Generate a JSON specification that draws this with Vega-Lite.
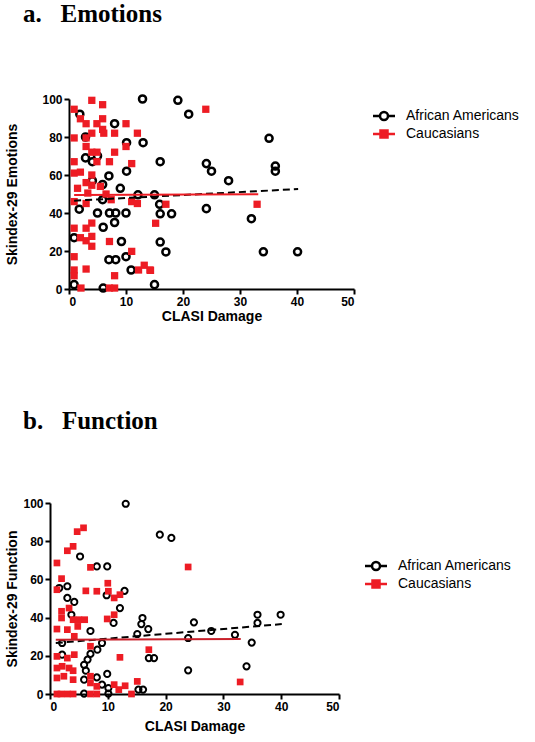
{
"$schema": "https://vega.github.io/schema/vega-lite/v6.json",
"background": "white",
"padding": {"left": 5, "top": 2, "right": 5, "bottom": 5},
"spacing": 85,
"config": {
 "view": {"stroke": null},
 "axis": {"domainColor": "black", "domainWidth": 2, "tickColor": "black", "tickWidth": 2, "tickSize": 5, "grid": false,
  "labelFont": "Liberation Sans", "labelFontSize": 12, "labelFontWeight": "bold", "labelColor": "black", "labelPadding": 2,
  "titleFont": "Liberation Sans", "titleFontSize": 14, "titleFontWeight": "bold", "titleColor": "black"},
 "title": {"anchor": "start", "frame": "bounds", "font": "Liberation Serif", "fontSize": 25, "fontWeight": "bold", "color": "black", "offset": 63, "dx": 17},
 "legend": {"labelFont": "Liberation Sans", "labelFontSize": 14, "labelColor": "black", "symbolSize": 100, "symbolStrokeWidth": 2.5, "symbolOpacity": 1, "rowPadding": 0, "labelOffset": 15}
},
"datasets": {
 "emo": [
  {"x":12.9,"y":100,"g":"African Americans"},{"x":19.1,"y":99.3,"g":"African Americans"},{"x":21,"y":92,"g":"African Americans"},{"x":1.9,"y":92,"g":"African Americans"},{"x":8,"y":87,"g":"African Americans"},{"x":35.1,"y":79.3,"g":"African Americans"},{"x":36.2,"y":64.7,"g":"African Americans"},{"x":36.2,"y":62,"g":"African Americans"},{"x":24.1,"y":66,"g":"African Americans"},{"x":25,"y":62,"g":"African Americans"},{"x":28,"y":57,"g":"African Americans"},{"x":16,"y":67,"g":"African Americans"},{"x":10.1,"y":77,"g":"African Americans"},{"x":13,"y":77,"g":"African Americans"},{"x":2.9,"y":80,"g":"African Americans"},{"x":2.9,"y":69,"g":"African Americans"},{"x":4.1,"y":67,"g":"African Americans"},{"x":5,"y":70,"g":"African Americans"},{"x":7,"y":59.5,"g":"African Americans"},{"x":10.1,"y":62,"g":"African Americans"},{"x":5.9,"y":55,"g":"African Americans"},{"x":4.1,"y":57,"g":"African Americans"},{"x":9,"y":53,"g":"African Americans"},{"x":12.1,"y":49.6,"g":"African Americans"},{"x":5.9,"y":47,"g":"African Americans"},{"x":1.8,"y":42,"g":"African Americans"},{"x":5,"y":40,"g":"African Americans"},{"x":7.1,"y":40,"g":"African Americans"},{"x":8.2,"y":40,"g":"African Americans"},{"x":10,"y":40,"g":"African Americans"},{"x":8,"y":35,"g":"African Americans"},{"x":6,"y":32.5,"g":"African Americans"},{"x":0.9,"y":27,"g":"African Americans"},{"x":9.2,"y":25,"g":"African Americans"},{"x":10,"y":17,"g":"African Americans"},{"x":7,"y":15.4,"g":"African Americans"},{"x":8.2,"y":15.4,"g":"African Americans"},{"x":10.9,"y":10,"g":"African Americans"},{"x":0.9,"y":2.3,"g":"African Americans"},{"x":6,"y":0.5,"g":"African Americans"},{"x":15,"y":2.3,"g":"African Americans"},{"x":15,"y":49.6,"g":"African Americans"},{"x":15.9,"y":44.6,"g":"African Americans"},{"x":16,"y":39.6,"g":"African Americans"},{"x":18,"y":39.6,"g":"African Americans"},{"x":24.1,"y":42.3,"g":"African Americans"},{"x":32,"y":37,"g":"African Americans"},{"x":16,"y":24.7,"g":"African Americans"},{"x":17,"y":19.5,"g":"African Americans"},{"x":34.1,"y":19.6,"g":"African Americans"},{"x":40.1,"y":19.6,"g":"African Americans"},
  {"x":4,"y":99.3,"g":"Caucasians"},{"x":5.9,"y":97,"g":"Caucasians"},{"x":0.9,"y":94.6,"g":"Caucasians"},{"x":24,"y":94.6,"g":"Caucasians"},{"x":2,"y":89.6,"g":"Caucasians"},{"x":3,"y":87,"g":"Caucasians"},{"x":4.9,"y":87,"g":"Caucasians"},{"x":5.9,"y":89.6,"g":"Caucasians"},{"x":10,"y":87,"g":"Caucasians"},{"x":4,"y":82,"g":"Caucasians"},{"x":5.9,"y":84,"g":"Caucasians"},{"x":6.1,"y":82,"g":"Caucasians"},{"x":8,"y":82,"g":"Caucasians"},{"x":12,"y":82,"g":"Caucasians"},{"x":0.9,"y":79.5,"g":"Caucasians"},{"x":3,"y":79.5,"g":"Caucasians"},{"x":3,"y":75,"g":"Caucasians"},{"x":10,"y":75,"g":"Caucasians"},{"x":4.9,"y":72,"g":"Caucasians"},{"x":4,"y":72,"g":"Caucasians"},{"x":8,"y":72,"g":"Caucasians"},{"x":0.9,"y":67,"g":"Caucasians"},{"x":4.9,"y":67,"g":"Caucasians"},{"x":7.1,"y":67,"g":"Caucasians"},{"x":11,"y":66,"g":"Caucasians"},{"x":0.9,"y":61,"g":"Caucasians"},{"x":2,"y":61.5,"g":"Caucasians"},{"x":4,"y":60,"g":"Caucasians"},{"x":3,"y":56,"g":"Caucasians"},{"x":4,"y":54.6,"g":"Caucasians"},{"x":1.5,"y":53,"g":"Caucasians"},{"x":5.5,"y":54,"g":"Caucasians"},{"x":0.9,"y":46,"g":"Caucasians"},{"x":3,"y":45,"g":"Caucasians"},{"x":3.3,"y":50.5,"g":"Caucasians"},{"x":6.5,"y":50,"g":"Caucasians"},{"x":7.4,"y":47,"g":"Caucasians"},{"x":11,"y":46,"g":"Caucasians"},{"x":12,"y":45,"g":"Caucasians"},{"x":15.2,"y":34.6,"g":"Caucasians"},{"x":17,"y":44.6,"g":"Caucasians"},{"x":14.3,"y":9.8,"g":"Caucasians"},{"x":33,"y":44.6,"g":"Caucasians"},{"x":0.9,"y":32,"g":"Caucasians"},{"x":3,"y":32,"g":"Caucasians"},{"x":4,"y":34.7,"g":"Caucasians"},{"x":4,"y":27.7,"g":"Caucasians"},{"x":2,"y":27,"g":"Caucasians"},{"x":3,"y":25.4,"g":"Caucasians"},{"x":4,"y":22.5,"g":"Caucasians"},{"x":7.1,"y":25,"g":"Caucasians"},{"x":0.9,"y":17,"g":"Caucasians"},{"x":0.9,"y":10,"g":"Caucasians"},{"x":0.9,"y":7,"g":"Caucasians"},{"x":3,"y":10.5,"g":"Caucasians"},{"x":8,"y":7,"g":"Caucasians"},{"x":11,"y":19.8,"g":"Caucasians"},{"x":12.2,"y":10,"g":"Caucasians"},{"x":13.2,"y":12.5,"g":"Caucasians"},{"x":14.2,"y":10,"g":"Caucasians"},{"x":2.1,"y":0.5,"g":"Caucasians"},{"x":7.1,"y":0.5,"g":"Caucasians"},{"x":8,"y":0.5,"g":"Caucasians"}
 ],
 "emoFit": [
  {"x":0.9,"y":46.5,"g":"African Americans"},{"x":40.2,"y":52.6,"g":"African Americans"},
  {"x":0.9,"y":49.5,"g":"Caucasians"},{"x":33.2,"y":49.9,"g":"Caucasians"}
 ],
 "fun": [
  {"x":13.1,"y":99.6,"g":"African Americans"},{"x":19,"y":83.4,"g":"African Americans"},{"x":21,"y":81.7,"g":"African Americans"},{"x":5.2,"y":72,"g":"African Americans"},{"x":8.1,"y":66.8,"g":"African Americans"},{"x":9.9,"y":66.8,"g":"African Americans"},{"x":1.6,"y":55.5,"g":"African Americans"},{"x":3,"y":56.4,"g":"African Americans"},{"x":12.9,"y":54,"g":"African Americans"},{"x":9.8,"y":51.7,"g":"African Americans"},{"x":3,"y":50.3,"g":"African Americans"},{"x":4.2,"y":48.2,"g":"African Americans"},{"x":12.1,"y":45,"g":"African Americans"},{"x":3.7,"y":41.5,"g":"African Americans"},{"x":11,"y":37.2,"g":"African Americans"},{"x":7,"y":33,"g":"African Americans"},{"x":16,"y":39.8,"g":"African Americans"},{"x":15.8,"y":36.6,"g":"African Americans"},{"x":17,"y":34,"g":"African Americans"},{"x":15.1,"y":31.4,"g":"African Americans"},{"x":2.1,"y":26.7,"g":"African Americans"},{"x":9,"y":26.7,"g":"African Americans"},{"x":8.2,"y":23.2,"g":"African Americans"},{"x":17.1,"y":18.8,"g":"African Americans"},{"x":18,"y":18.8,"g":"African Americans"},{"x":7,"y":21,"g":"African Americans"},{"x":2.1,"y":20.6,"g":"African Americans"},{"x":6.5,"y":18,"g":"African Americans"},{"x":5.9,"y":15.3,"g":"African Americans"},{"x":6.2,"y":12.2,"g":"African Americans"},{"x":9.9,"y":10.5,"g":"African Americans"},{"x":8.1,"y":8.7,"g":"African Americans"},{"x":5.9,"y":7.5,"g":"African Americans"},{"x":9,"y":4.9,"g":"African Americans"},{"x":10.1,"y":3.1,"g":"African Americans"},{"x":15.3,"y":2.3,"g":"African Americans"},{"x":16.1,"y":2.3,"g":"African Americans"},{"x":5.9,"y":0.2,"g":"African Americans"},{"x":10.1,"y":0.2,"g":"African Americans"},{"x":35.9,"y":41.5,"g":"African Americans"},{"x":35.9,"y":37.2,"g":"African Americans"},{"x":39.9,"y":41.5,"g":"African Americans"},{"x":24.9,"y":37.5,"g":"African Americans"},{"x":27.9,"y":33,"g":"African Americans"},{"x":32,"y":31,"g":"African Americans"},{"x":23.9,"y":29.3,"g":"African Americans"},{"x":34.9,"y":26.9,"g":"African Americans"},{"x":23.9,"y":12.4,"g":"African Americans"},{"x":34,"y":14.5,"g":"African Americans"},
  {"x":5.8,"y":87,"g":"Caucasians"},{"x":4.7,"y":85,"g":"Caucasians"},{"x":4,"y":77.3,"g":"Caucasians"},{"x":3,"y":75,"g":"Caucasians"},{"x":1.2,"y":68.6,"g":"Caucasians"},{"x":7,"y":66.3,"g":"Caucasians"},{"x":2,"y":60.4,"g":"Caucasians"},{"x":10,"y":58,"g":"Caucasians"},{"x":1.2,"y":54.6,"g":"Caucasians"},{"x":6.2,"y":54,"g":"Caucasians"},{"x":8.1,"y":53.8,"g":"Caucasians"},{"x":10.1,"y":53.8,"g":"Caucasians"},{"x":11.1,"y":50.3,"g":"Caucasians"},{"x":12.1,"y":52,"g":"Caucasians"},{"x":3.3,"y":45,"g":"Caucasians"},{"x":2,"y":43.3,"g":"Caucasians"},{"x":2,"y":39.8,"g":"Caucasians"},{"x":9.9,"y":39.3,"g":"Caucasians"},{"x":11.1,"y":41.5,"g":"Caucasians"},{"x":4,"y":38.9,"g":"Caucasians"},{"x":5,"y":38.9,"g":"Caucasians"},{"x":6,"y":38.9,"g":"Caucasians"},{"x":4.8,"y":35.4,"g":"Caucasians"},{"x":1.2,"y":34,"g":"Caucasians"},{"x":3,"y":33.7,"g":"Caucasians"},{"x":4.2,"y":30.2,"g":"Caucasians"},{"x":7,"y":25,"g":"Caucasians"},{"x":17.1,"y":23.2,"g":"Caucasians"},{"x":1.2,"y":19.7,"g":"Caucasians"},{"x":4.2,"y":20.6,"g":"Caucasians"},{"x":3,"y":18.8,"g":"Caucasians"},{"x":12.1,"y":19.2,"g":"Caucasians"},{"x":1.2,"y":13.6,"g":"Caucasians"},{"x":2.1,"y":14.5,"g":"Caucasians"},{"x":3.3,"y":13.6,"g":"Caucasians"},{"x":4,"y":12.2,"g":"Caucasians"},{"x":1.2,"y":8.4,"g":"Caucasians"},{"x":2.4,"y":9.3,"g":"Caucasians"},{"x":4,"y":7.5,"g":"Caucasians"},{"x":7,"y":9.3,"g":"Caucasians"},{"x":7,"y":5.8,"g":"Caucasians"},{"x":8.1,"y":4,"g":"Caucasians"},{"x":11.1,"y":4.9,"g":"Caucasians"},{"x":13,"y":4.3,"g":"Caucasians"},{"x":15.1,"y":6.6,"g":"Caucasians"},{"x":11.9,"y":2.3,"g":"Caucasians"},{"x":14.1,"y":0,"g":"Caucasians"},{"x":1.2,"y":0,"g":"Caucasians"},{"x":1.9,"y":0,"g":"Caucasians"},{"x":3,"y":0,"g":"Caucasians"},{"x":4,"y":0,"g":"Caucasians"},{"x":7,"y":0,"g":"Caucasians"},{"x":8.1,"y":0,"g":"Caucasians"},{"x":23.9,"y":66.5,"g":"Caucasians"},{"x":32.9,"y":6.3,"g":"Caucasians"}
 ],
 "funFit": [
  {"x":1,"y":26.7,"g":"African Americans"},{"x":40.1,"y":36.6,"g":"African Americans"},
  {"x":1,"y":28.4,"g":"Caucasians"},{"x":33,"y":28.8,"g":"Caucasians"}
 ]
},
"vconcat": [
 {
  "title": {"text": "a.\u00a0\u00a0\u00a0Emotions"},
  "width": 285, "height": 190,
  "encoding": {
   "x": {"field": "x", "type": "quantitative", "scale": {"domain": [0, 50], "nice": false}, "axis": {"title": "CLASI Damage", "values": [0,10,20,30,40,50], "titlePadding": 2}},
   "y": {"field": "y", "type": "quantitative", "scale": {"domain": [0, 100], "nice": false}, "axis": {"title": "Skindex-29 Emotions", "values": [0,20,40,60,80,100], "titlePadding": 22}}
  },
  "layer": [
   {"data": {"name": "emo"}, "transform": [{"filter": "datum.g === 'African Americans'"}], "mark": {"type": "point", "shape": "circle", "filled": false, "stroke": "black", "strokeWidth": 2.5, "size": 50, "opacity": 1}},
   {"data": {"name": "emo"}, "transform": [{"filter": "datum.g === 'Caucasians'"}], "mark": {"type": "point", "shape": "square", "filled": true, "fill": "#ed1c24", "strokeWidth": 0, "size": 53, "opacity": 1}},
   {"data": {"name": "emoFit"}, "transform": [{"filter": "datum.g === 'African Americans'"}], "mark": {"type": "line", "color": "black", "strokeWidth": 2, "strokeDash": [7, 4]}, "encoding": {}},
   {"data": {"name": "emoFit"}, "transform": [{"filter": "datum.g === 'Caucasians'"}], "mark": {"type": "line", "color": "#ed1c24", "strokeWidth": 2}, "encoding": {}},
   {"data": {"name": "emoFit"}, "mark": {"type": "point", "opacity": 0, "strokeWidth": 2.5},
    "encoding": {
     "shape": {"field": "g", "type": "nominal", "scale": {"domain": ["African Americans", "Caucasians"], "range": ["M-2.2,0H-0.8M0.8,0H2.2M-0.8,0A0.8,0.8,0,1,1,0.8,0A0.8,0.8,0,1,1,-0.8,0Z", "M-2.2,0H2.2M-0.7,-0.7H0.7V0.7H-0.7Z"]},
      "legend": {"title": null, "orient": "none", "legendX": 308, "legendY": 10, "symbolOpacity": 1}},
     "stroke": {"field": "g", "type": "nominal", "scale": {"domain": ["African Americans", "Caucasians"], "range": ["black", "#ed1c24"]},
      "legend": {"title": null, "orient": "none", "legendX": 308, "legendY": 10, "symbolOpacity": 1}},
     "fill": {"field": "g", "type": "nominal", "scale": {"domain": ["African Americans", "Caucasians"], "range": ["transparent", "#ed1c24"]},
      "legend": {"title": null, "orient": "none", "legendX": 308, "legendY": 10, "symbolOpacity": 1}}
    }}
  ]
 },
 {
  "title": {"text": "b.\u00a0\u00a0\u00a0Function"},
  "width": 270, "height": 191,
  "encoding": {
   "x": {"field": "x", "type": "quantitative", "scale": {"domain": [0, 50], "nice": false, "range": [-19, 270]}, "axis": {"title": "CLASI Damage", "values": [0,10,20,30,40,50], "titlePadding": 7}},
   "y": {"field": "y", "type": "quantitative", "scale": {"domain": [0, 100], "nice": false}, "axis": {"title": "Skindex-29 Function", "values": [0,20,40,60,80,100], "titlePadding": 3, "offset": 19}}
  },
  "layer": [
   {"data": {"name": "fun"}, "transform": [{"filter": "datum.g === 'African Americans'"}], "mark": {"type": "point", "shape": "circle", "filled": false, "stroke": "black", "strokeWidth": 2, "size": 38, "opacity": 1}},
   {"data": {"name": "fun"}, "transform": [{"filter": "datum.g === 'Caucasians'"}], "mark": {"type": "point", "shape": "square", "filled": true, "fill": "#ed1c24", "strokeWidth": 0, "size": 45, "opacity": 1}},
   {"data": {"name": "funFit"}, "transform": [{"filter": "datum.g === 'African Americans'"}], "mark": {"type": "line", "color": "black", "strokeWidth": 2, "strokeDash": [7, 4]}, "encoding": {}},
   {"data": {"name": "funFit"}, "transform": [{"filter": "datum.g === 'Caucasians'"}], "mark": {"type": "line", "color": "#c8202a", "strokeWidth": 2}, "encoding": {}},
   {"data": {"name": "funFit"}, "mark": {"type": "point", "opacity": 0, "strokeWidth": 2.5},
    "encoding": {
     "shape": {"field": "g", "type": "nominal", "scale": {"domain": ["African Americans", "Caucasians"], "range": ["M-2.2,0H-0.8M0.8,0H2.2M-0.8,0A0.8,0.8,0,1,1,0.8,0A0.8,0.8,0,1,1,-0.8,0Z", "M-2.2,0H2.2M-0.7,-0.7H0.7V0.7H-0.7Z"]},
      "legend": {"title": null, "orient": "none", "legendX": 300, "legendY": 56, "symbolOpacity": 1}},
     "stroke": {"field": "g", "type": "nominal", "scale": {"domain": ["African Americans", "Caucasians"], "range": ["black", "#ed1c24"]},
      "legend": {"title": null, "orient": "none", "legendX": 300, "legendY": 56, "symbolOpacity": 1}},
     "fill": {"field": "g", "type": "nominal", "scale": {"domain": ["African Americans", "Caucasians"], "range": ["transparent", "#ed1c24"]},
      "legend": {"title": null, "orient": "none", "legendX": 300, "legendY": 56, "symbolOpacity": 1}}
    }}
  ]
 }
],
"resolve": {"scale": {"x": "independent", "y": "independent", "shape": "independent", "stroke": "independent", "fill": "independent"}, "legend": {"shape": "independent", "stroke": "independent", "fill": "independent"}}
}
